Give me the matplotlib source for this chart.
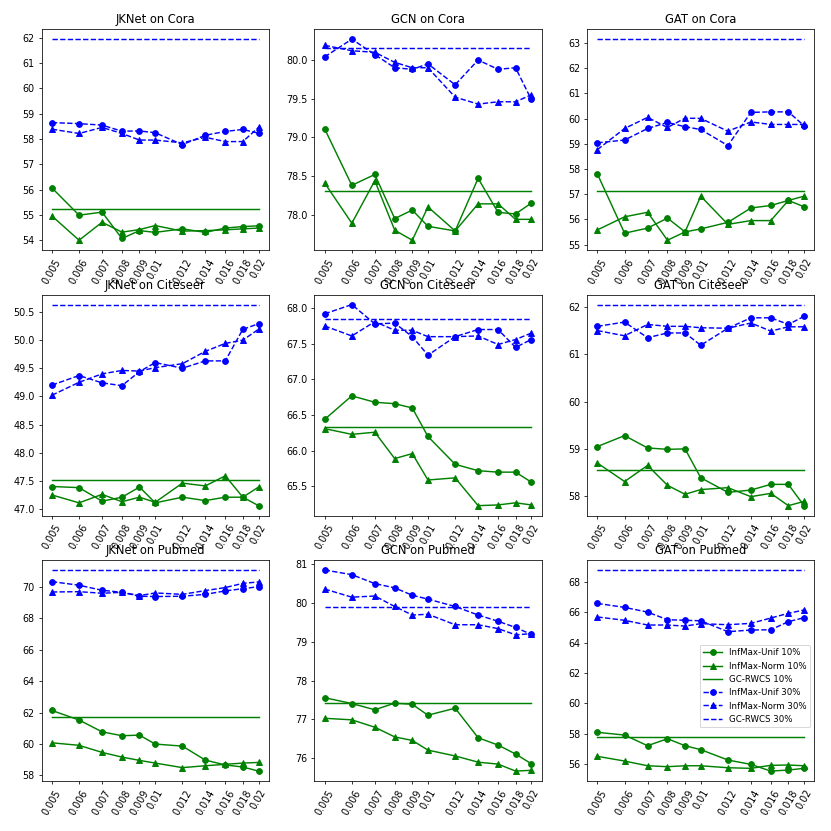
import matplotlib
matplotlib.use("Agg")
import matplotlib.pyplot as plt

x_vals = [0.005, 0.006, 0.007, 0.008, 0.009, 0.01, 0.012, 0.014, 0.016, 0.018, 0.02]
x_labels = ["0.005", "0.006", "0.007", "0.008", "0.009", "0.01", "0.012", "0.014", "0.016", "0.018", "0.02"]

titles = ["JKNet on Cora", "GCN on Cora", "GAT on Cora",
          "JKNet on Citeseer", "GCN on Citeseer", "GAT on Citeseer",
          "JKNet on Pubmed", "GCN on Pubmed", "GAT on Pubmed"]

# InfMax-Unif 10%
unif10 = [
    [56.07, 54.99, 55.11, 54.07, 54.38, 54.31, 54.45, 54.31, 54.48, 54.54, 54.57],
    [79.11, 78.38, 78.52, 77.95, 78.06, 77.85, 77.79, 78.47, 78.03, 78.01, 78.15],
    [57.80, 55.45, 55.65, 56.05, 55.50, 55.62, 55.88, 56.45, 56.55, 56.75, 56.50],
    [47.40, 47.38, 47.14, 47.21, 47.39, 47.11, 47.21, 47.15, 47.21, 47.21, 47.06],
    [66.44, 66.77, 66.68, 66.66, 66.60, 66.20, 65.81, 65.72, 65.70, 65.70, 65.56],
    [59.05, 59.28, 59.02, 58.99, 59.00, 58.39, 58.08, 58.13, 58.25, 58.25, 57.80],
    [62.14, 61.53, 60.78, 60.53, 60.57, 60.00, 59.87, 58.98, 58.67, 58.54, 58.28],
    [77.56, 77.41, 77.25, 77.42, 77.39, 77.11, 77.29, 76.53, 76.34, 76.11, 75.86],
    [58.09, 57.91, 57.21, 57.67, 57.21, 56.95, 56.27, 55.98, 55.54, 55.61, 55.72],
]

# InfMax-Norm 10%
norm10 = [
    [54.96, 54.00, 54.71, 54.32, 54.42, 54.58, 54.36, 54.38, 54.41, 54.45, 54.48],
    [78.41, 77.89, 78.44, 77.80, 77.67, 78.10, 77.79, 78.14, 78.14, 77.94, 77.94],
    [55.58, 56.10, 56.28, 55.17, 55.50, 56.92, 55.80, 55.95, 55.95, 56.75, 56.92],
    [47.25, 47.11, 47.26, 47.13, 47.21, 47.12, 47.46, 47.41, 47.59, 47.21, 47.39],
    [66.31, 66.23, 66.26, 65.89, 65.96, 65.59, 65.62, 65.23, 65.24, 65.27, 65.24],
    [58.70, 58.31, 58.65, 58.23, 58.04, 58.14, 58.18, 57.99, 58.06, 57.80, 57.89],
    [60.08, 59.92, 59.47, 59.17, 58.96, 58.79, 58.50, 58.62, 58.71, 58.79, 58.83],
    [77.03, 76.99, 76.80, 76.55, 76.46, 76.21, 76.06, 75.90, 75.85, 75.67, 75.69],
    [56.51, 56.20, 55.89, 55.83, 55.89, 55.89, 55.76, 55.72, 55.92, 55.94, 55.89],
]

# GC-RWCS 10%
gc10 = [55.25, 78.31, 57.11, 47.51, 66.33, 58.55, 61.74, 77.43, 57.78]

# InfMax-Unif 30%
unif30 = [
    [58.65, 58.61, 58.55, 58.31, 58.32, 58.25, 57.78, 58.15, 58.30, 58.38, 58.23],
    [80.04, 80.27, 80.07, 79.90, 79.88, 79.95, 79.68, 80.00, 79.88, 79.90, 79.49],
    [59.04, 59.15, 59.61, 59.85, 59.68, 59.57, 58.93, 60.25, 60.27, 60.27, 59.72],
    [49.20, 49.37, 49.24, 49.19, 49.44, 49.60, 49.50, 49.63, 49.63, 50.19, 50.29],
    [67.92, 68.05, 67.78, 67.79, 67.60, 67.34, 67.60, 67.70, 67.70, 67.45, 67.56],
    [61.59, 61.68, 61.35, 61.45, 61.45, 61.19, 61.55, 61.77, 61.77, 61.63, 61.80],
    [70.34, 70.11, 69.79, 69.66, 69.41, 69.39, 69.41, 69.53, 69.75, 69.89, 70.02],
    [80.85, 80.73, 80.50, 80.39, 80.20, 80.10, 79.91, 79.69, 79.53, 79.37, 79.19],
    [66.57, 66.31, 66.00, 65.50, 65.46, 65.43, 64.71, 64.82, 64.84, 65.37, 65.63],
]

# InfMax-Norm 30%
norm30 = [
    [58.39, 58.22, 58.46, 58.22, 57.96, 57.96, 57.85, 58.07, 57.90, 57.90, 58.46],
    [80.19, 80.12, 80.10, 79.97, 79.90, 79.90, 79.52, 79.43, 79.46, 79.46, 79.55],
    [58.77, 59.61, 60.05, 59.65, 60.02, 60.01, 59.50, 59.87, 59.77, 59.77, 59.77],
    [49.02, 49.25, 49.40, 49.46, 49.45, 49.51, 49.58, 49.80, 49.94, 50.00, 50.19],
    [67.75, 67.61, 67.81, 67.69, 67.69, 67.60, 67.60, 67.61, 67.49, 67.56, 67.65],
    [61.50, 61.39, 61.63, 61.59, 61.59, 61.56, 61.55, 61.66, 61.49, 61.58, 61.58],
    [69.68, 69.70, 69.60, 69.66, 69.45, 69.62, 69.53, 69.77, 69.96, 70.23, 70.32],
    [80.36, 80.15, 80.18, 79.91, 79.69, 79.71, 79.44, 79.44, 79.34, 79.18, 79.21],
    [65.68, 65.46, 65.15, 65.15, 65.08, 65.24, 65.17, 65.26, 65.61, 65.92, 66.14],
]

# GC-RWCS 30%
gc30 = [61.95, 80.16, 63.16, 50.63, 67.85, 62.05, 71.08, 79.90, 68.77]

fig, axes = plt.subplots(3, 3, figsize=(12, 12))
fig.subplots_adjust(left=0.05, right=0.98, top=0.965, bottom=0.06, wspace=0.2, hspace=0.2)

for i, ax in enumerate(axes.flat):
    ax.plot(x_vals, unif10[i], color='g', marker='o', linestyle='-', label='InfMax-Unif 10%')
    ax.plot(x_vals, norm10[i], color='g', marker='^', linestyle='-', label='InfMax-Norm 10%')
    ax.plot(x_vals, [gc10[i]] * len(x_vals), color='g', linestyle='-', label='GC-RWCS 10%')
    ax.plot(x_vals, unif30[i], color='b', marker='o', linestyle='--', label='InfMax-Unif 30%')
    ax.plot(x_vals, norm30[i], color='b', marker='^', linestyle='--', label='InfMax-Norm 30%')
    ax.plot(x_vals, [gc30[i]] * len(x_vals), color='b', linestyle='--', label='GC-RWCS 30%')
    ax.set_xscale('log')
    ax.minorticks_off()
    ax.set_xticks(x_vals)
    ax.set_xticklabels(x_labels, rotation=60)
    ax.minorticks_off()
    ax.set_title(titles[i])

axes[2, 2].legend(loc='center right', bbox_to_anchor=(1.0, 0.43), fontsize=9,
                  handlelength=2.2)

fig.savefig("out.png", dpi=69.25)
